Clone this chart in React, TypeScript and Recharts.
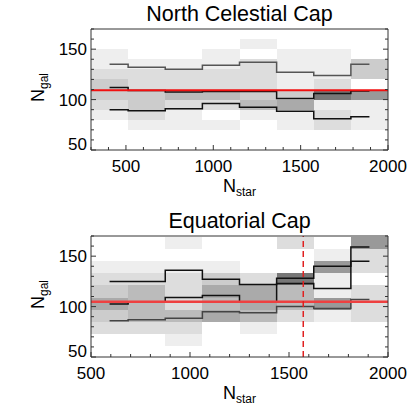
import React from "react";
import {
  ComposedChart,
  Line,
  XAxis,
  YAxis,
  ReferenceArea,
  ReferenceLine,
} from "recharts";

const FONT = '"Liberation Sans", Arial, Helvetica, sans-serif';

// grey level per cell, index into this list (0 = empty bin)
const GRAYS = [
  "#ffffff",
  "#eeeeee",
  "#dddddd",
  "#cccccc",
  "#bbbbbb",
  "#aaaaaa",
  "#999999",
  "#888888",
  "#777777",
];

// ---- North Celestial Cap ----
const northXEdges = [300, 512.5, 725, 937.5, 1150, 1362.5, 1575, 1787.5, 2000];
const northYEdges = [50, 60, 70, 80, 90, 100, 110, 120, 130, 140, 150, 160, 170];
// rows from top (160-170) to bottom (50-60)
const northShade = [
  [0, 0, 0, 0, 0, 0, 0, 0],
  [0, 0, 0, 0, 1, 0, 0, 0],
  [1, 0, 0, 1, 0, 1, 1, 0],
  [1, 1, 1, 1, 2, 1, 1, 3],
  [2, 2, 2, 2, 2, 1, 1, 3],
  [3, 2, 2, 2, 2, 1, 2, 0],
  [3, 3, 4, 4, 3, 3, 8, 6],
  [2, 3, 2, 2, 4, 5, 1, 1],
  [1, 2, 1, 0, 1, 1, 2, 1],
  [0, 1, 1, 1, 0, 1, 2, 1],
  [0, 0, 0, 0, 0, 0, 0, 0],
  [0, 0, 0, 0, 0, 0, 0, 0],
];
const northUpper = [135, 132, 130, 134, 137, 127, 124, 135];
const northMedian = [112, 109, 107.5, 108, 108, 101, 106, 108.5];
const northLower = [90, 89, 91, 96, 92.5, 88.5, 81, 83];
const northMean = 109.3;
const northXMajor = [500, 1000, 1500, 2000];
const northXTicks = [300, 400, 500, 600, 700, 800, 900, 1000, 1100, 1200, 1300, 1400, 1500, 1600, 1700, 1800, 1900, 2000];

// ---- Equatorial Cap ----
const eqXEdges = [500, 687.5, 875, 1062.5, 1250, 1437.5, 1625, 1812.5, 2000];
const eqYEdges = [49, 61, 73, 85, 97, 109, 121, 133, 145, 157, 169];
// rows from top (157-169) to bottom (49-61)
const eqShade = [
  [0, 0, 1, 0, 0, 2, 0, 6],
  [0, 0, 0, 0, 0, 0, 1, 2],
  [1, 1, 1, 1, 0, 0, 6, 2],
  [2, 2, 2, 3, 2, 8, 1, 0],
  [3, 4, 2, 5, 5, 4, 1, 2],
  [5, 4, 2, 4, 5, 4, 6, 2],
  [3, 4, 4, 5, 4, 2, 1, 2],
  [2, 2, 2, 0, 1, 0, 0, 0],
  [0, 0, 1, 0, 0, 0, 0, 0],
  [0, 0, 0, 0, 0, 0, 0, 0],
];
const eqUpper = [125, 125, 136, 127, 122, 128, 140, 145];
const eqMedian = [102.5, 104.5, 109, 111, 104.5, 123, 118, 159];
const eqLower = [86, 87, 88.5, 95, 94, 100, 98, 107];
const eqMean = 104.8;
const eqCut = 1572;
const eqXMajor = [500, 1000, 1500, 2000];
const eqXTicks = [500, 600, 700, 800, 900, 1000, 1100, 1200, 1300, 1400, 1500, 1600, 1700, 1800, 1900, 2000];

const yMajor = [50, 100, 150];
const yTicks = [50, 60, 70, 80, 90, 100, 110, 120, 130, 140, 150, 160, 170];

const AXIS_COLOR = "#333";

function xTick(major: number[], side: "top" | "bottom") {
  return (p: any) => {
    const { x, y, payload } = p;
    const isMajor = major.includes(payload.value);
    const len = isMajor ? 5 : 3;
    const dir = side === "bottom" ? -1 : 1;
    return (
      <g>
        <line x1={x} x2={x} y1={y} y2={y + dir * len} stroke={AXIS_COLOR} />
        {side === "bottom" && isMajor && (
          <text x={x} y={y + 22} textAnchor="middle" fontSize={17} fontFamily={FONT} fill="#000">
            {payload.value}
          </text>
        )}
      </g>
    );
  };
}

function yTick(side: "left" | "right", min: number) {
  return (p: any) => {
    const { x, y, payload } = p;
    const isMajor = yMajor.includes(payload.value);
    const len = isMajor ? 5 : 3;
    const dir = side === "left" ? 1 : -1;
    return (
      <g>
        <line x1={x} x2={x + dir * len} y1={y} y2={y} stroke={AXIS_COLOR} />
        {side === "left" && isMajor && (
          <text
            x={x - 4}
            y={y}
            dy={payload.value === min ? "0" : "0.35em"}
            textAnchor="end"
            fontSize={17}
            fontFamily={FONT}
            fill="#000"
          >
            {payload.value}
          </text>
        )}
      </g>
    );
  };
}

interface PanelProps {
  title: string;
  xEdges: number[];
  yEdges: number[];
  shade: number[][];
  upper: number[];
  median: number[];
  lower: number[];
  mean: number;
  cut?: number;
  xTicks: number[];
  xMajor: number[];
  upperColor: string;
  lowerColor: string;
  meanColor: string;
  meanWidth: number;
}

function Panel(props: PanelProps) {
  const { title, xEdges, yEdges, shade, upper, median, lower, mean, cut, xTicks, xMajor } = props;
  const xDomain = [xEdges[0], xEdges[xEdges.length - 1]];
  const yDomain = [50, 170];
  const data = upper.map((u, i) => ({
    x: (xEdges[i] + xEdges[i + 1]) / 2,
    upper: u,
    median: median[i],
    lower: lower[i],
  }));
  const nRows = shade.length;

  return (
    <ComposedChart width={415} height={200} data={data} margin={{ top: 0, right: 0, bottom: 0, left: 0 }}>
      <XAxis
        xAxisId="b"
        dataKey="x"
        type="number"
        domain={xDomain}
        allowDataOverflow
        ticks={xTicks}
        interval={0}
        height={50}
        tickSize={0}
        tickMargin={0}
        tickLine={false}
        axisLine={{ stroke: AXIS_COLOR }}
        tick={xTick(xMajor, "bottom")}
        label={(p: any) => {
          const vb = p.viewBox;
          return (
            <text x={vb.x + vb.width / 2} y={vb.y + 42} textAnchor="middle" fontFamily={FONT} fontSize={18} fill="#000">
              N
              <tspan fontSize={12} dy={4}>star</tspan>
            </text>
          );
        }}
      />
      <XAxis
        xAxisId="t"
        orientation="top"
        type="number"
        domain={xDomain}
        allowDataOverflow
        ticks={xTicks}
        interval={0}
        height={29}
        tickSize={0}
        tickMargin={0}
        tickLine={false}
        axisLine={{ stroke: AXIS_COLOR }}
        tick={xTick(xMajor, "top")}
        label={(p: any) => {
          const vb = p.viewBox;
          return (
            <text x={vb.x + vb.width / 2} y={vb.y + vb.height - 8} textAnchor="middle" fontFamily={FONT} fontSize={21.5} fill="#000">
              {title}
            </text>
          );
        }}
      />
      <YAxis
        yAxisId="l"
        type="number"
        domain={yDomain}
        allowDataOverflow
        ticks={yTicks}
        interval={0}
        width={91}
        tickSize={0}
        tickMargin={0}
        tickLine={false}
        axisLine={{ stroke: AXIS_COLOR }}
        tick={yTick("left", yDomain[0])}
        label={(p: any) => {
          const vb = p.viewBox;
          return (
            <text
              transform={`translate(${vb.x + 44}, ${vb.y + 73}) rotate(-90)`}
              fontFamily={FONT}
              fontSize={18}
              fill="#000"
            >
              N
              <tspan fontSize={12} dy={4}>gal</tspan>
            </text>
          );
        }}
      />
      <YAxis
        yAxisId="r"
        orientation="right"
        type="number"
        domain={yDomain}
        allowDataOverflow
        ticks={yTicks}
        interval={0}
        width={27}
        tickSize={0}
        tickMargin={0}
        tickLine={false}
        axisLine={{ stroke: AXIS_COLOR }}
        tick={yTick("right", yDomain[0])}
      />

      {shade.flatMap((row, r) =>
        row.map((lv, c) =>
          lv === 0 ? null : (
            <ReferenceArea
              key={`cell-${r}-${c}`}
              xAxisId="b"
              yAxisId="l"
              x1={xEdges[c]}
              x2={xEdges[c + 1]}
              y1={yEdges[nRows - r - 1]}
              y2={yEdges[nRows - r]}
              fill={GRAYS[lv]}
              fillOpacity={1}
              stroke="none"
              ifOverflow="hidden"
              shapeRendering="crispEdges"
            />
          )
        )
      )}

      <Line xAxisId="b" yAxisId="l" type="step" dataKey="upper" stroke={props.upperColor} strokeWidth={1.5} dot={false} activeDot={false} isAnimationActive={false} />
      <Line xAxisId="b" yAxisId="l" type="step" dataKey="median" stroke="#111" strokeWidth={1.5} dot={false} activeDot={false} isAnimationActive={false} />
      <Line xAxisId="b" yAxisId="l" type="step" dataKey="lower" stroke={props.lowerColor} strokeWidth={1.5} dot={false} activeDot={false} isAnimationActive={false} />

      <ReferenceLine xAxisId="b" yAxisId="l" y={mean} stroke={props.meanColor} strokeWidth={props.meanWidth} />
      {cut !== undefined && (
        <ReferenceLine xAxisId="b" yAxisId="l" x={cut} stroke="#e02020" strokeWidth={1.5} strokeDasharray="6 4" />
      )}
    </ComposedChart>
  );
}

export default function App() {
  return (
    <div style={{ position: "absolute", left: 0, top: 0, width: 415, height: 415, background: "#fff" }}>
      <div style={{ position: "absolute", left: 0, top: 0 }}>
        <Panel
          title="North Celestial Cap"
          xEdges={northXEdges}
          yEdges={northYEdges}
          shade={northShade}
          upper={northUpper}
          median={northMedian}
          lower={northLower}
          mean={northMean}
          xTicks={northXTicks}
          xMajor={northXMajor}
          upperColor="#555"
          lowerColor="#111"
          meanColor="#f01010"
          meanWidth={2}
        />
      </div>
      <div style={{ position: "absolute", left: 0, top: 207 }}>
        <Panel
          title="Equatorial Cap"
          xEdges={eqXEdges}
          yEdges={eqYEdges}
          shade={eqShade}
          upper={eqUpper}
          median={eqMedian}
          lower={eqLower}
          mean={eqMean}
          cut={eqCut}
          xTicks={eqXTicks}
          xMajor={eqXMajor}
          upperColor="#111"
          lowerColor="#444"
          meanColor="#ee4040"
          meanWidth={2.5}
        />
      </div>
    </div>
  );
}
